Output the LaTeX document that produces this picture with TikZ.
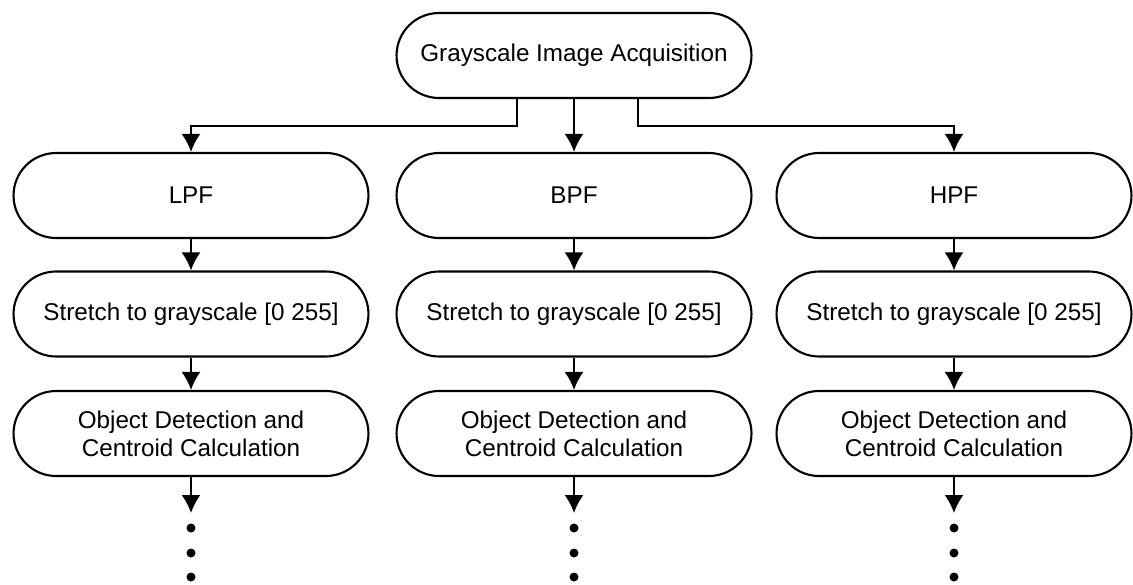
\documentclass[tikz,border=0pt]{standalone}
\usepackage{fontspec}
\setmainfont{Liberation Sans}
\usetikzlibrary{arrows.meta,shapes.misc}
\newcommand{\boxfont}{\fontsize{13.8pt}{16pt}\selectfont}

\begin{document}
\begin{tikzpicture}[x=0.02cm,y=-0.02cm,
  flowbox/.style={draw,line width=1.2pt,rounded rectangle,minimum width=7.1cm,minimum height=1.7cm,inner sep=0pt,align=center,font=\boxfont},
  flowarrow/.style={line width=1.2pt,-{Latex[length=0.36cm,width=0.38cm]}}]
\useasboundingbox (0,0) rectangle (1133,585);
%top node
\node[flowbox] (acq) at (574,55.5) {Grayscale Image Acquisition};
%split points under the top node
\coordinate (jl) at (517,126);
\coordinate (jr) at (638,126);
%three columns of boxes
\foreach \n/\x/\t in {lpf/191/LPF,bpf/574/BPF,hpf/954/HPF}{
  \node[flowbox] (\n) at (\x,195.5) {\t};
  \node[flowbox] (s\n) at (\x,314) {Stretch to grayscale [0 255]};
  \node[flowbox] (o\n) at (\x,433.5) {Object Detection and\\Centroid Calculation};
  \coordinate (e\n) at (\x,513);
  \draw[flowarrow] (\n.south) -- (s\n.north);
  \draw[flowarrow] (s\n.south) -- (o\n.north);
  \draw[flowarrow] (o\n.south) -- (e\n);
  %dots
  \foreach \y in {528,553,577}
    \fill (\x,\y) circle [radius=0.09cm];
}
% draw arrows from the top node
\draw[flowarrow] (acq.south -| jl) -- (jl) -| (lpf.north);
\draw[flowarrow] (acq.south) -- (bpf.north);
\draw[flowarrow] (acq.south -| jr) -- (jr) -| (hpf.north);
\end{tikzpicture}
\end{document}
